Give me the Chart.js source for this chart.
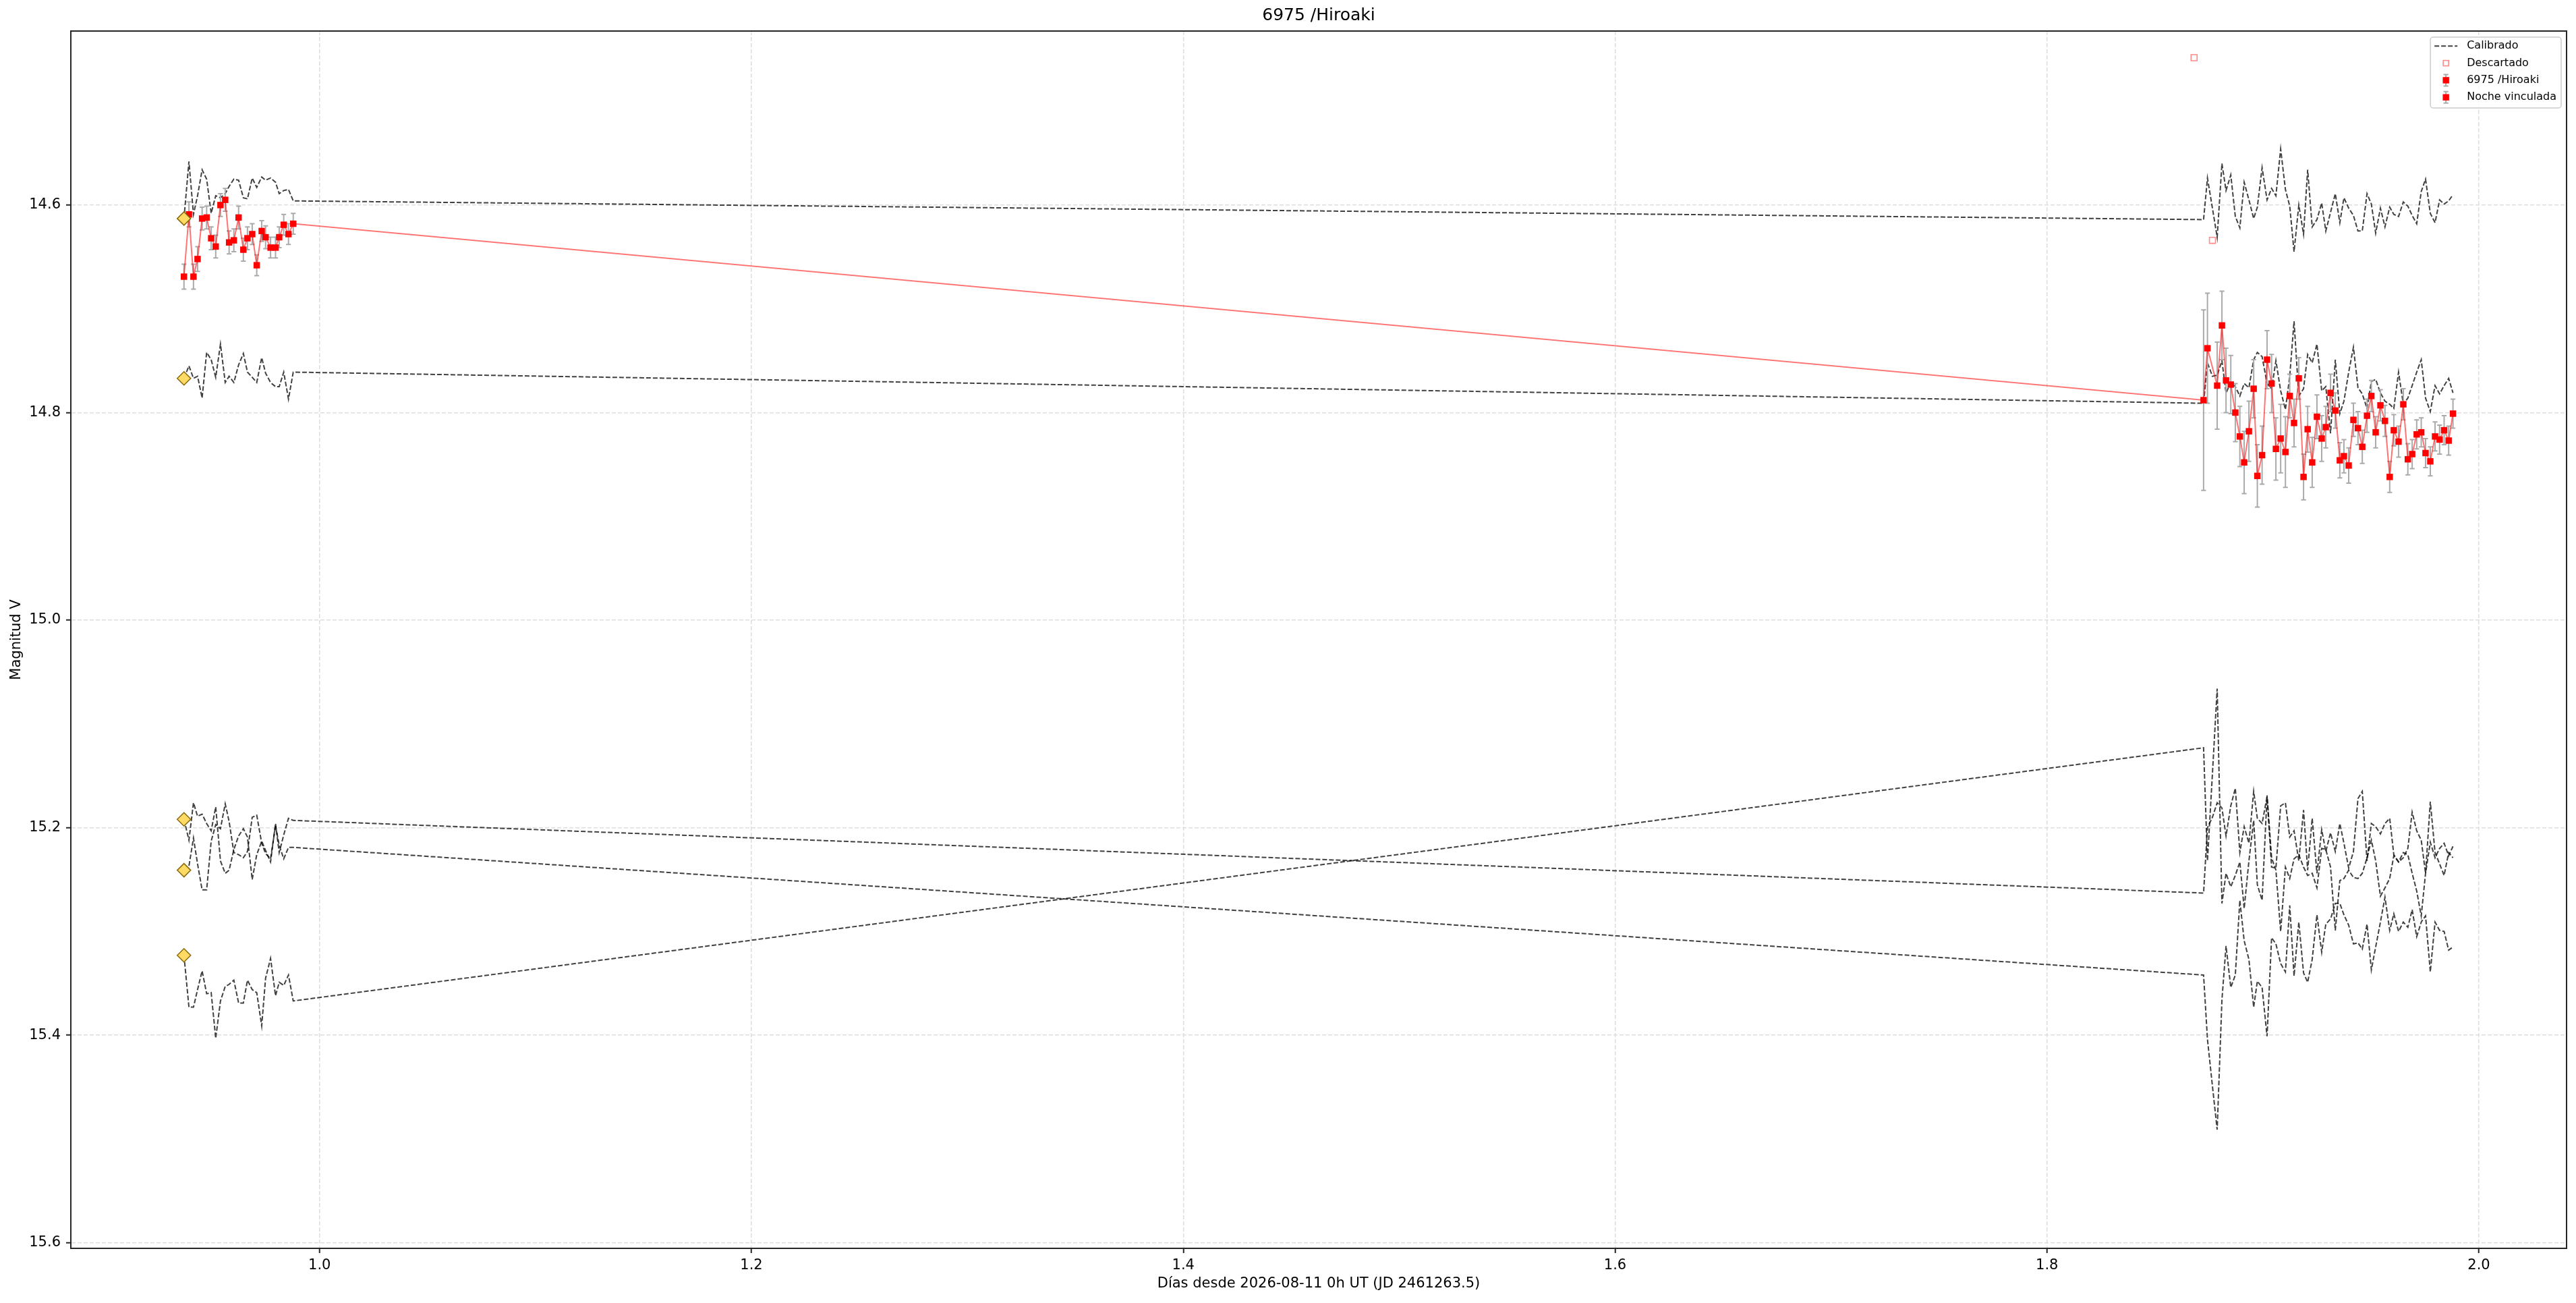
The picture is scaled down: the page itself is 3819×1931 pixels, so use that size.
<!DOCTYPE html>
<html>
<head>
<meta charset="utf-8">
<script src="https://cdn.jsdelivr.net/npm/chart.js@4.4.1/dist/chart.umd.min.js"></script>
<style>
html,body{margin:0;padding:0;background:#ffffff;}
canvas{display:block;}
</style>
</head>
<body>
<canvas id="c" width="3819" height="1931"></canvas>
<script>
// ---------- DATA ----------
const chartTitle = '6975 /Hiroaki';
const xAxisTitle = 'Días desde 2026-08-11 0h UT (JD 2461263.5)';
const yAxisTitle = 'Magnitud V';
const xTickValues = [1.0, 1.2, 1.4, 1.6, 1.8, 2.0];
const yTickValues = [14.6, 14.8, 15.0, 15.2, 15.4, 15.6];
const xRange = [0.8848, 2.0406];
const yRange = [14.4323, 15.6054];
const legendLabels = ['Calibrado', 'Descartado', '6975 /Hiroaki', 'Noche vinculada'];

// frame times (days since 2026-08-11 0h UT)
const night1Days = [0.9372,0.9395,0.9416,0.9435,0.9456,0.9477,0.9498,0.9519,0.9541,0.9563,0.9581,0.9603,0.9625,0.9647,0.9666,0.9688,0.9709,0.9732,0.9750,0.9773,0.9796,0.9813,0.9834,0.9856,0.9878];
const night2Days = [1.8725,1.8743,1.8766,1.8788,1.8810,1.8829,1.8851,1.8872,1.8893,1.8913,1.8935,1.8957,1.8974,1.8996,1.9019,1.9040,1.9060,1.9082,1.9104,1.9124,1.9144,1.9166,1.9188,1.9207,1.9228,1.9250,1.9272,1.9291,1.9313,1.9335,1.9356,1.9375,1.9397,1.9419,1.9440,1.9460,1.9482,1.9502,1.9522,1.9544,1.9565,1.9587,1.9606,1.9628,1.9650,1.9671,1.9691,1.9712,1.9733,1.9753,1.9775,1.9797,1.9818,1.9839,1.9860,1.9880];

// target star 6975 /Hiroaki
const targetMags1 = [14.669,14.609,14.669,14.652,14.613,14.612,14.632,14.640,14.600,14.595,14.636,14.634,14.612,14.643,14.632,14.628,14.658,14.625,14.631,14.641,14.641,14.631,14.619,14.628,14.618];
const targetErr1 = [0.012,0.012,0.012,0.012,0.011,0.011,0.011,0.011,0.011,0.011,0.011,0.011,0.011,0.011,0.011,0.010,0.010,0.010,0.011,0.010,0.010,0.010,0.010,0.010,0.010];
const targetDays2 = [1.8725,1.8743,1.8788,1.8810,1.8829,1.8851,1.8872,1.8893,1.8913,1.8935,1.8957,1.8974,1.8996,1.9019,1.9040,1.9060,1.9082,1.9104,1.9124,1.9144,1.9166,1.9188,1.9207,1.9228,1.9250,1.9272,1.9291,1.9313,1.9335,1.9356,1.9375,1.9397,1.9419,1.9440,1.9460,1.9482,1.9502,1.9522,1.9544,1.9565,1.9587,1.9606,1.9628,1.9650,1.9671,1.9691,1.9712,1.9733,1.9753,1.9775,1.9797,1.9818,1.9839,1.9860,1.9880];
const targetMags2 = [14.788,14.738,14.774,14.716,14.769,14.773,14.800,14.823,14.848,14.818,14.777,14.861,14.841,14.749,14.772,14.835,14.825,14.838,14.784,14.810,14.767,14.862,14.816,14.848,14.804,14.825,14.814,14.781,14.798,14.846,14.842,14.851,14.807,14.815,14.833,14.803,14.784,14.819,14.793,14.808,14.862,14.817,14.828,14.792,14.845,14.840,14.821,14.819,14.839,14.847,14.823,14.826,14.817,14.827,14.801];
const targetErr2 = [0.087,0.053,0.042,0.033,0.031,0.028,0.028,0.029,0.030,0.029,0.028,0.030,0.028,0.028,0.028,0.030,0.033,0.034,0.021,0.023,0.020,0.022,0.022,0.024,0.021,0.022,0.020,0.018,0.017,0.017,0.016,0.017,0.016,0.016,0.016,0.016,0.015,0.015,0.015,0.015,0.015,0.015,0.015,0.015,0.015,0.014,0.014,0.014,0.014,0.014,0.014,0.014,0.014,0.014,0.014];

// discarded points
const discardDays = [1.8681, 1.8766];
const discardMags = [14.458, 14.634];

// calibrated comparison stars (night 1 / night 2)
const cal1N1 = [14.613,14.558,14.609,14.591,14.566,14.575,14.608,14.591,14.593,14.589,14.582,14.575,14.576,14.593,14.594,14.574,14.583,14.573,14.576,14.574,14.578,14.589,14.586,14.585,14.596];
const cal2N1 = [14.767,14.755,14.767,14.765,14.786,14.742,14.749,14.766,14.734,14.771,14.765,14.771,14.754,14.743,14.761,14.766,14.771,14.747,14.762,14.771,14.775,14.775,14.761,14.787,14.761];
const cal3N1 = [15.192,15.212,15.176,15.189,15.187,15.196,15.203,15.180,15.232,15.244,15.241,15.221,15.208,15.201,15.209,15.250,15.226,15.213,15.222,15.233,15.196,15.224,15.207,15.191,15.193];
const cal4N1 = [15.241,15.237,15.210,15.235,15.260,15.260,15.213,15.197,15.201,15.177,15.194,15.224,15.226,15.229,15.223,15.190,15.188,15.215,15.225,15.230,15.198,15.217,15.230,15.219,15.219];
const cal5N1 = [15.323,15.373,15.373,15.356,15.338,15.360,15.359,15.403,15.367,15.353,15.351,15.347,15.369,15.369,15.347,15.356,15.359,15.391,15.345,15.326,15.362,15.349,15.352,15.342,15.367];
const cal1N2 = [14.614,14.574,14.603,14.631,14.560,14.586,14.571,14.611,14.622,14.578,14.595,14.613,14.602,14.564,14.595,14.584,14.591,14.546,14.585,14.601,14.645,14.600,14.628,14.566,14.621,14.614,14.598,14.625,14.607,14.589,14.617,14.593,14.603,14.610,14.625,14.625,14.589,14.599,14.627,14.603,14.621,14.602,14.609,14.611,14.597,14.601,14.610,14.618,14.587,14.575,14.608,14.617,14.595,14.599,14.596,14.590];
const cal2N2 = [14.791,14.752,14.765,14.764,14.750,14.781,14.771,14.775,14.784,14.772,14.776,14.749,14.742,14.746,14.772,14.777,14.750,14.779,14.797,14.765,14.712,14.784,14.777,14.744,14.752,14.734,14.779,14.775,14.820,14.749,14.801,14.789,14.761,14.737,14.776,14.782,14.796,14.770,14.768,14.781,14.789,14.792,14.796,14.761,14.792,14.786,14.774,14.761,14.749,14.786,14.799,14.774,14.782,14.774,14.767,14.781];
const cal3N2 = [15.263,15.200,15.190,15.176,15.181,15.208,15.179,15.162,15.224,15.199,15.215,15.165,15.191,15.196,15.170,15.238,15.239,15.179,15.176,15.209,15.203,15.232,15.183,15.241,15.191,15.244,15.202,15.223,15.205,15.223,15.196,15.215,15.239,15.223,15.172,15.165,15.232,15.196,15.199,15.206,15.196,15.191,15.226,15.233,15.229,15.220,15.185,15.203,15.212,15.244,15.175,15.224,15.235,15.246,15.224,15.229];
const cal4N2 = [15.342,15.404,15.449,15.491,15.366,15.314,15.354,15.342,15.270,15.309,15.327,15.373,15.348,15.354,15.401,15.306,15.312,15.331,15.339,15.275,15.343,15.291,15.340,15.349,15.327,15.284,15.320,15.293,15.288,15.273,15.273,15.284,15.294,15.312,15.311,15.317,15.293,15.337,15.315,15.291,15.267,15.299,15.283,15.300,15.291,15.296,15.279,15.305,15.291,15.285,15.339,15.291,15.299,15.300,15.318,15.315];
const cal5N2 = [15.123,15.232,15.148,15.066,15.273,15.244,15.257,15.246,15.233,15.278,15.232,15.193,15.255,15.270,15.169,15.229,15.241,15.300,15.238,15.249,15.230,15.226,15.238,15.246,15.244,15.258,15.220,15.221,15.238,15.299,15.251,15.249,15.241,15.248,15.249,15.244,15.229,15.212,15.232,15.266,15.258,15.249,15.227,15.233,15.224,15.226,15.244,15.261,15.285,15.244,15.214,15.229,15.220,15.215,15.227,15.218];

// reference (catalogue) markers
const refDays = [0.9372, 0.9372, 0.9372, 0.9372, 0.9372];
const refMags = [14.613, 14.767, 15.192, 15.241, 15.323];

// ---------- STYLE ----------
const FONT = "'DejaVu Sans', 'Liberation Sans', sans-serif";
const CAL_COLOR = 'rgba(0,0,0,0.75)';
const CAL_DASH = [7, 3];
const TARGET_LINE = 'rgba(255,0,0,0.55)';
const ERR_COLOR = '#aaaaaa';
const DISCARD_COLOR = '#ff8a8a';
const AXIS_COLOR = '#262626';
const GRID_COLOR = '#dedede';

function pts(xs, ys) { return xs.map((x, i) => ({x: x, y: ys[i]})); }

const calPairs = [[cal1N1, cal1N2], [cal2N1, cal2N2], [cal3N1, cal3N2], [cal4N1, cal4N2], [cal5N1, cal5N2]];
const calDatasets = calPairs.map((p, k) => ({
  type: 'line',
  label: legendLabels[0],
  data: pts(night1Days, p[0]).concat(pts(night2Days, p[1])),
  borderColor: CAL_COLOR,
  borderWidth: 2,
  borderDash: CAL_DASH,
  pointRadius: 0,
  fill: false,
  tension: 0,
  order: 3
}));

const targetDataset = {
  type: 'line',
  label: legendLabels[2],
  isTarget: true,
  data: pts(night1Days, targetMags1).concat(pts(targetDays2, targetMags2)),
  borderColor: TARGET_LINE,
  borderWidth: 2,
  pointStyle: 'rect',
  pointRadius: 6.7,
  pointBackgroundColor: '#ff0000',
  pointBorderColor: '#ff0000',
  pointBorderWidth: 0,
  fill: false,
  tension: 0,
  order: 1
};

const discardDataset = {
  type: 'line',
  label: legendLabels[1],
  data: pts(discardDays, discardMags),
  showLine: false,
  pointStyle: 'rect',
  pointRadius: 6.3,
  pointBackgroundColor: 'rgba(255,255,255,0)',
  pointBorderColor: DISCARD_COLOR,
  pointBorderWidth: 1.6,
  order: 2
};

const refDataset = {
  type: 'line',
  label: 'Referencia',
  data: pts(refDays, refMags),
  showLine: false,
  pointStyle: 'rectRot',
  pointRadius: 10,
  pointBackgroundColor: '#ffdb66',
  pointBorderColor: '#8a6a0c',
  pointBorderWidth: 1.5,
  order: 0
};

// error bars for the target, drawn through the chart scales
const errorBarPlugin = {
  id: 'errorBars',
  beforeDatasetDraw(chart, args) {
    const ds = chart.data.datasets[args.index];
    if (!ds.isTarget) return;
    const {ctx, chartArea, scales} = chart;
    const xs = scales.x, ys = scales.y;
    ctx.save();
    ctx.beginPath();
    ctx.rect(chartArea.left, chartArea.top, chartArea.right - chartArea.left, chartArea.bottom - chartArea.top);
    ctx.clip();
    ctx.strokeStyle = ERR_COLOR;
    ctx.lineWidth = 2;
    const cap = 3.6;
    const drawSet = (days, mags, errs) => {
      days.forEach((d, i) => {
        const px = xs.getPixelForValue(d);
        const y1 = ys.getPixelForValue(mags[i] - errs[i]);
        const y2 = ys.getPixelForValue(mags[i] + errs[i]);
        ctx.beginPath();
        ctx.moveTo(px, y1); ctx.lineTo(px, y2);
        ctx.moveTo(px - cap, y1); ctx.lineTo(px + cap, y1);
        ctx.moveTo(px - cap, y2); ctx.lineTo(px + cap, y2);
        ctx.stroke();
      });
    };
    drawSet(night1Days, targetMags1, targetErr1);
    drawSet(targetDays2, targetMags2, targetErr2);
    ctx.restore();
  }
};

// full frame (matplotlib style box) + legend box
const framePlugin = {
  id: 'frameLegend',
  afterDraw(chart) {
    const {ctx, chartArea: a} = chart;
    ctx.save();
    ctx.strokeStyle = AXIS_COLOR;
    ctx.lineWidth = 2;
    ctx.strokeRect(a.left, a.top, a.right - a.left, a.bottom - a.top);

    // legend
    ctx.font = '16px ' + FONT;
    let maxW = 0;
    legendLabels.forEach(t => { maxW = Math.max(maxW, ctx.measureText(t).width); });
    const rowH = 25.3;
    const W = 54 + maxW + 7;
    const H = 105;
    const R = a.right - 8;
    const L = R - W;
    const T = a.top + 9;
    ctx.beginPath();
    if (ctx.roundRect) { ctx.roundRect(L, T, W, H, 4); } else { ctx.rect(L, T, W, H); }
    ctx.fillStyle = 'rgba(255,255,255,0.8)';
    ctx.fill();
    ctx.strokeStyle = '#cccccc';
    ctx.lineWidth = 1.5;
    ctx.stroke();

    const sx = L + 23;
    const tx = L + 54;
    const rows = [T + 13.3, T + 13.3 + rowH, T + 13.3 + 2 * rowH, T + 13.3 + 3 * rowH];
    // Calibrado
    ctx.strokeStyle = CAL_COLOR; ctx.lineWidth = 2; ctx.setLineDash(CAL_DASH);
    ctx.beginPath(); ctx.moveTo(sx - 17, rows[0]); ctx.lineTo(sx + 17, rows[0]); ctx.stroke();
    ctx.setLineDash([]);
    // Descartado
    ctx.strokeStyle = DISCARD_COLOR; ctx.lineWidth = 1.6;
    ctx.strokeRect(sx - 4, rows[1] - 4, 8, 8);
    // target + linked night
    [rows[2], rows[3]].forEach(y => {
      ctx.strokeStyle = ERR_COLOR; ctx.lineWidth = 2;
      ctx.beginPath();
      ctx.moveTo(sx, y - 8.5); ctx.lineTo(sx, y + 8.5);
      ctx.moveTo(sx - 3.6, y - 8.5); ctx.lineTo(sx + 3.6, y - 8.5);
      ctx.moveTo(sx - 3.6, y + 8.5); ctx.lineTo(sx + 3.6, y + 8.5);
      ctx.stroke();
      ctx.fillStyle = '#ff0000';
      ctx.fillRect(sx - 4.7, y - 4.7, 9.4, 9.4);
    });
    ctx.fillStyle = '#000000';
    ctx.textBaseline = 'middle';
    ctx.textAlign = 'left';
    legendLabels.forEach((t, i) => ctx.fillText(t, tx, rows[i]));
    ctx.restore();
  }
};

const tickFont = {family: FONT, size: 21};
const titleFont = {family: FONT, size: 21};

new Chart(document.getElementById('c'), {
  type: 'line',
  data: {datasets: [refDataset, targetDataset, discardDataset].concat(calDatasets)},
  options: {
    responsive: false,
    devicePixelRatio: 1,
    animation: false,
    layout: {padding: {left: 0, right: 14, top: 0, bottom: 0}},
    plugins: {
      legend: {display: false},
      tooltip: {enabled: false},
      title: {
        display: true,
        text: chartTitle,
        color: '#000000',
        fullSize: false,
        font: {family: FONT, size: 25, weight: 'normal'},
        padding: {top: 8, bottom: 8}
      }
    },
    scales: {
      x: {
        type: 'linear',
        bounds: 'data',
        min: xRange[0],
        max: xRange[1],
        afterBuildTicks: s => { s.ticks = xTickValues.map(v => ({value: v})); },
        afterFit: s => { s.height = 81; },
        ticks: {callback: v => Number(v).toFixed(1), font: tickFont, color: '#000000', padding: 6, maxRotation: 0, autoSkip: false},
        grid: {color: GRID_COLOR, lineWidth: 1.5, drawTicks: true, tickLength: 7, tickColor: AXIS_COLOR, tickWidth: 2},
        border: {display: true, color: AXIS_COLOR, width: 2, dash: [6, 3]},
        title: {display: true, text: xAxisTitle, color: '#000000', font: titleFont, padding: {top: 4, bottom: 16}}
      },
      y: {
        type: 'linear',
        reverse: true,
        bounds: 'data',
        min: yRange[0],
        max: yRange[1],
        afterBuildTicks: s => { s.ticks = yTickValues.map(v => ({value: v})); },
        afterFit: s => { s.width = 105; },
        ticks: {callback: v => Number(v).toFixed(1), font: tickFont, color: '#000000', padding: 8, autoSkip: false},
        grid: {color: GRID_COLOR, lineWidth: 1.5, drawTicks: true, tickLength: 7, tickColor: AXIS_COLOR, tickWidth: 2},
        border: {display: true, color: AXIS_COLOR, width: 2, dash: [6, 3]},
        title: {display: true, text: yAxisTitle, color: '#000000', font: titleFont, padding: {top: 12, bottom: 4}}
      }
    }
  },
  plugins: [errorBarPlugin, framePlugin]
});
</script>
</body>
</html>
